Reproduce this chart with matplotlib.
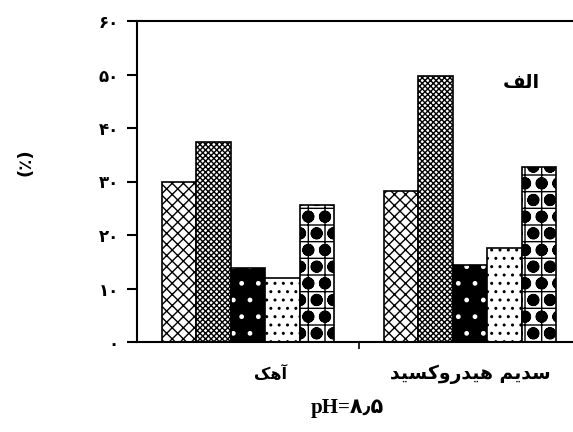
import matplotlib
matplotlib.use("Agg")
import matplotlib.pyplot as plt
import numpy as np

# treatment groups (left to right) and the five series drawn in each
groups = ["آهک", "سدیم هیدروکسید"]
series_1 = [30.0, 28.2]
series_2 = [37.4, 49.8]
series_3 = [13.8, 14.3]
series_4 = [11.9, 17.6]
series_5 = [25.7, 32.7]
yticks = [0, 10, 20, 30, 40, 50, 60]
panel_label = "الف"
x_title = "pH=۸٫۵"
y_title = "(٪)"

# contextual forms for the few Persian letters used (isol, fin[, init, medi])
FORMS = {
    'ا': ('\uFE8D', '\uFE8E'),
    'آ': ('\uFE81', '\uFE82'),
    'د': ('\uFEA9', '\uFEAA'),
    'ر': ('\uFEAD', '\uFEAE'),
    'و': ('\uFEED', '\uFEEE'),
    'ل': ('\uFEDD', '\uFEDE', '\uFEDF', '\uFEE0'),
    'ف': ('\uFED1', '\uFED2', '\uFED3', '\uFED4'),
    'ه': ('\uFEE9', '\uFEEA', '\uFEEB', '\uFEEC'),
    'ک': ('\uFB8E', '\uFB8F', '\uFB90', '\uFB91'),
    'س': ('\uFEB1', '\uFEB2', '\uFEB3', '\uFEB4'),
    'ی': ('\uFBFC', '\uFBFD', '\uFBFE', '\uFBFF'),
    'م': ('\uFEE1', '\uFEE2', '\uFEE3', '\uFEE4'),
}


def shape(text):
    """Join Persian letters and put them in visual (left-to-right) order."""
    out = []
    for i, ch in enumerate(text):
        f = FORMS.get(ch)
        if f is None:
            out.append(ch)
            continue
        prev = text[i - 1] if i > 0 else ''
        nxt = text[i + 1] if i + 1 < len(text) else ''
        joins_prev = prev in FORMS and len(FORMS[prev]) == 4
        joins_next = len(f) == 4 and nxt in FORMS
        if joins_prev and joins_next:
            out.append(f[3])
        elif joins_prev:
            out.append(f[1])
        elif joins_next:
            out.append(f[2])
        else:
            out.append(f[0])
    return ''.join(reversed(out))


def fa_digits(v, pos=None):
    return str(int(v)).translate(str.maketrans("0123456789", "۰۱۲۳۴۵۶۷۸۹"))


def hatch_width(bars, lw):
    for b in bars:
        if hasattr(b, 'set_hatch_linewidth'):
            b.set_hatch_linewidth(lw)


plt.rcParams['font.family'] = ['DejaVu Sans']
plt.rcParams['hatch.linewidth'] = 1.0

fig = plt.figure(figsize=(5.73, 4.32), dpi=100)
ax = fig.add_axes([137 / 573, 90 / 432, 444 / 573, 321 / 432])

x = np.arange(len(groups))
w = 0.155
offsets = np.array([-2, -1, 0, 1, 2]) * w

# series 1: open lattice
ax.bar(x + offsets[0], series_1, w, color='white', edgecolor='black', hatch='xxx', lw=1.2)
# series 2: dense checker
ax.bar(x + offsets[1], series_2, w, color='white', edgecolor='black', hatch='xxxxxx', lw=1.2)
# series 3: black with white dots
ax.bar(x + offsets[2], series_3, w, color='black', edgecolor='white', hatch='.', lw=0)
ax.bar(x + offsets[2], series_3, w, color='none', edgecolor='black', lw=1.2)
# series 4: white with black dots
ax.bar(x + offsets[3], series_4, w, color='white', edgecolor='black', hatch='..', lw=1.2)
# series 5: grid with heavy dots
dots = ax.bar(x + offsets[4], series_5, w, color='white', edgecolor='black', hatch='o', lw=0)
hatch_width(dots, 4.0)
grid = ax.bar(x + offsets[4], series_5, w, color='none', edgecolor='black', hatch='+', lw=1.2)
hatch_width(grid, 1.0)

ax.set_xlim(-0.5, 1.5)
ax.set_ylim(0, 60)
ax.set_yticks(yticks)
ax.yaxis.set_major_formatter(plt.FuncFormatter(fa_digits))
ax.tick_params(axis='y', direction='out', length=7, width=1.5, labelsize=12, pad=6)
for t in ax.get_yticklabels():
    t.set_fontweight('bold')
ax.set_xticks([0.5])
ax.set_xticklabels([])
ax.tick_params(axis='x', direction='out', length=5, width=1.2)

for s in ['left', 'top', 'bottom']:
    ax.spines[s].set_linewidth(1.5)
ax.spines['right'].set_visible(False)

ax.text(0.1, -0.1, shape(groups[0]), transform=ax.get_xaxis_transform(),
        ha='center', va='center', fontsize=11.5, fontweight='bold')
ax.text(1.0, -0.1, shape(groups[1]), transform=ax.get_xaxis_transform(),
        ha='center', va='center', fontsize=13.5, fontweight='bold')
ax.text(1.23, 48.5, shape(panel_label), ha='center', va='center',
        fontsize=14, fontweight='bold')

fig.text(347 / 573, 1 - 408 / 432, x_title, ha='center', va='center',
         fontsize=15, fontweight='bold', family=['Liberation Serif', 'DejaVu Sans'])
fig.text(25 / 573, 1 - 162 / 432, y_title, ha='center', va='center', rotation=90,
         fontsize=13, fontweight='bold')

fig.savefig("out.png", dpi=100)
